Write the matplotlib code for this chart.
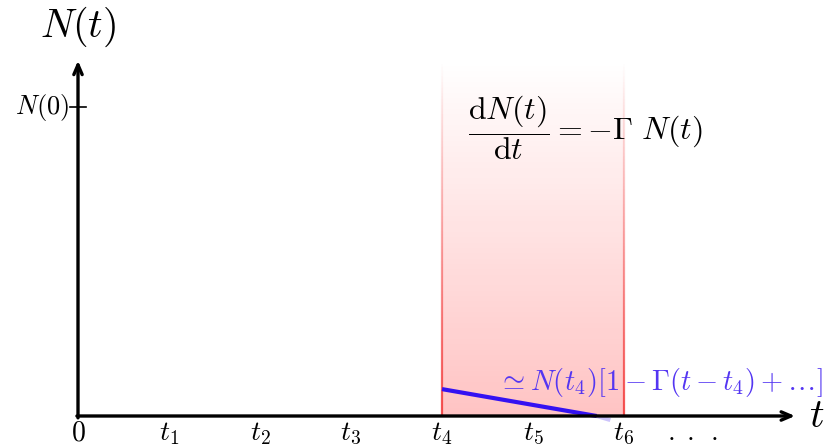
"""
Exponential decay sketch: N(t) with a linearised step between t4 and t6
"""

import numpy as np
import matplotlib.pyplot as plt
from matplotlib.collections import LineCollection

plt.rcParams['mathtext.fontset'] = 'cm'

# tick positions (in units of the time step) and their labels
tick_pos = [0, 1, 2, 3, 4, 5, 6]
tick_labels = ['$0$', '$t_1$', '$t_2$', '$t_3$', '$t_4$', '$t_5$', '$t_6$']
n0 = 1.0                      # N(0) level on the y axis
shade_span = [4, 6]           # shaded window t4 .. t6
shade_top = 1.15
line_t = [4.0, 5.70]          # linear approximation, starts at t4
line_n = [0.087, 0.0]
x_end, y_end = 7.88, 1.15     # arrow tips

fig = plt.figure(figsize=(8.26, 4.48), dpi=100)
ax = fig.add_axes([0, 0, 1, 1])
ax.set_xlim(-78 / 91, (826 - 78) / 91)
ax.set_ylim(-32 / 309, (448 - 32) / 309)
ax.axis('off')

# red gradient band (light at top, stronger at the axis)
nrow = 256
alpha = np.linspace(0.26, 0.0, nrow)[:, None]
img = np.zeros((nrow, 2, 4))
img[..., 0] = 1.0
img[..., 1] = 0.1
img[..., 2] = 0.1
img[..., 3] = alpha
ax.imshow(img, extent=[shade_span[0], shade_span[1], 0, shade_top],
          origin='lower', aspect='auto', interpolation='bilinear', zorder=1)

# red edges fading upward
ys = np.linspace(0, shade_top, 120)
for xe in shade_span:
    segs = [[(xe, ys[i]), (xe, ys[i + 1])] for i in range(len(ys) - 1)]
    cols = [(0.95, 0.2, 0.2, a) for a in np.linspace(0.85, 0.0, len(segs))]
    ax.add_collection(LineCollection(segs, colors=cols, linewidths=1.6, zorder=2))

# linear approximation
ax.plot(line_t, line_n, color='#3412f2', lw=3.0, solid_capstyle='butt', zorder=3)
ax.plot([line_t[1], 5.85], [0, -0.013], color='#3412f2', lw=3.0, alpha=0.25,
        solid_capstyle='butt', zorder=3)

# axes with arrows
arrow = dict(arrowstyle='->, head_length=0.7, head_width=0.3', lw=2.4, color='black',
             shrinkA=0, shrinkB=0)
ax.annotate('', xy=(x_end, 0), xytext=(-0.012, 0), arrowprops=arrow, zorder=4)
ax.annotate('', xy=(0, y_end), xytext=(0, -0.006), arrowprops=arrow, zorder=4)

# N(0) tick
ax.plot([-0.09, 0.09], [n0, n0], color='black', lw=1.2, zorder=4)
ax.text(-0.1, n0 - 0.002, '$N(0)$', ha='right', va='center', fontsize=19)

for p, lab in zip(tick_pos, tick_labels):
    ax.text(p, -0.079, lab, ha='center', va='baseline', fontsize=20)
ax.text(6.75, -0.088, r'$\cdot\;\cdot\;\cdot$', ha='center', va='baseline', fontsize=20)

ax.text(0.0, 1.26, '$N(t)$', ha='center', va='center', fontsize=29)
ax.text(8.12, 0.0, '$t$', ha='center', va='center', fontsize=29)

ax.text(5.58, 0.935, r'$\dfrac{\mathrm{d}N(t)}{\mathrm{d}t} = -\Gamma\ N(t)$',
        ha='center', va='center', fontsize=23)
ax.text(8.19, 0.11, r'$\simeq N(t_4)[1-\Gamma(t-t_4)+\ldots]$',
        ha='right', va='center', fontsize=20.5, color='#5436f2')

fig.savefig('out.png', dpi=100)
